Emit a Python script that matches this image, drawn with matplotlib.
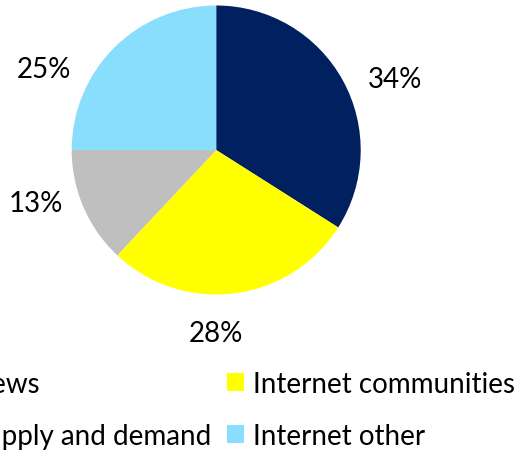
import matplotlib.pyplot as plt

categorias = ['News', 'Internet communities', 'Supply and demand', 'Internet other']
percentuais = [34, 28, 13, 25]
cores = ['#002060', '#FFFF00', '#BFBFBF', '#89DEFE']

# posição dos rótulos (em raios, a partir do centro)
pos_rotulos = [(1.24, 0.49), (0.0, -1.265), (-1.245, -0.37), (-1.19, 0.56)]

plt.rcParams['font.family'] = ['Lato', 'DejaVu Sans']

fig = plt.figure(figsize=(5.27, 4.56), dpi=100)
cx, cy, r = 216.2, 151, 144.5
ax = fig.add_axes([(cx - r) / 527, 1 - (cy + r) / 456, 2 * r / 527, 2 * r / 456])

fatias, _ = ax.pie(percentuais, colors=cores, startangle=90, counterclock=False,
                   radius=1.0, wedgeprops=dict(linewidth=0))
ax.set_xlim(-1, 1)
ax.set_ylim(-1, 1)
ax.set_aspect('auto')

for valor, (x, y) in zip(percentuais, pos_rotulos):
    ax.text(x, y, f'{valor}%', ha='center', va='center', fontsize=20, color='black',
            clip_on=False)

# legenda em duas colunas, preenchida por coluna
ordem = [0, 2, 1, 3]
fig.legend([fatias[i] for i in ordem], [categorias[i] for i in ordem], ncol=2,
           frameon=False, fontsize=20,
           loc='upper left', bbox_to_anchor=(-55 / 527, 1 - 372 / 456),
           handlelength=0.61, handleheight=0.61, handletextpad=0.32,
           columnspacing=0.58, labelspacing=0.94, borderaxespad=0, borderpad=0)

fig.savefig('out.png', dpi=100)
